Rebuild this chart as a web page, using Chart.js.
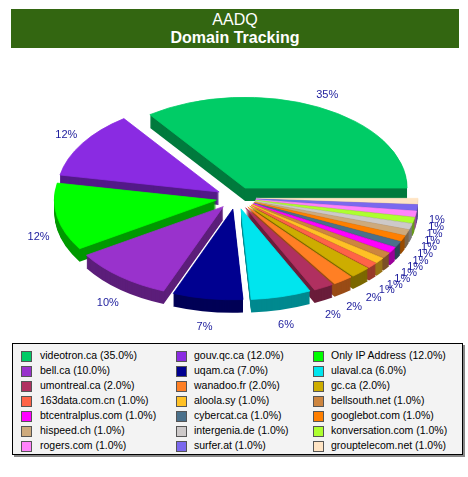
<!DOCTYPE html>
<html>
<head>
<meta charset="utf-8">
<script src="https://cdn.jsdelivr.net/npm/chart.js@4.4.1/dist/chart.umd.min.js"></script>
<style>
  body { margin: 0; background: #fff; font-family: Arial, "Liberation Sans", sans-serif; }
  #wrap { position: relative; width: 468px; height: 477px; overflow: hidden; }
  #title { position: absolute; left: 11px; top: 9px; width: 448px; height: 39px; background: #336611; color: #fff; text-align: center; }
  #title .t1 { font-size: 16px; line-height: 18px; padding-top: 2px; }
  #title .t2 { font-size: 16px; font-weight: bold; line-height: 18px; }
  #pie { position: absolute; left: 0; top: 50px; }
  #legend { position: absolute; left: 12px; top: 343px; width: 449px; height: 110px; background: #f3f3f3; border: 1px solid #000; box-shadow: 2px 2px 0 #888; }
  .sw { position: absolute; width: 9px; height: 9px; border: 1px solid #555; }
  .tx { position: absolute; font-size: 10.5px; line-height: 15px; height: 15px; white-space: nowrap; color: #000; }
</style>
</head>
<body>
<div id="wrap">
  <div id="title"><div class="t1">AADQ</div><div class="t2">Domain Tracking</div></div>
  <canvas id="pie" width="468" height="292"></canvas>
  <div id="legend"></div>
</div>
<script>
// ---- data ----
const domains = ['videotron.ca', 'gouv.qc.ca', 'Only IP Address', 'bell.ca', 'uqam.ca', 'ulaval.ca',
  'umontreal.ca', 'wanadoo.fr', 'gc.ca', '163data.com.cn', 'aloola.sy', 'bellsouth.net',
  'btcentralplus.com', 'cybercat.ca', 'googlebot.com', 'hispeed.ch', 'intergenia.de',
  'konversation.com', 'rogers.com', 'surfer.at', 'grouptelecom.net'];
const shares = [35, 12, 12, 10, 7, 6, 2, 2, 2, 1, 1, 1, 1, 1, 1, 1, 1, 1, 1, 1, 1];
const palette = ['#00cc66', '#8a2be2', '#00ff00', '#9932cc', '#000090', '#00e5ee',
  '#b03060', '#ff7f24', '#cdad00', '#ff6347', '#ffc125', '#cd853f',
  '#ff00ff', '#4a708b', '#ff7f00', '#cdaa7d', '#cdc9c9',
  '#adff2f', '#ff83fa', '#7b68ee', '#ffe4c4'];

// 3d look
const K = 0.56, DEPTH = 13, EXPLODE = 20, CX = 236, CY = 148;

function shade(hex, f) {
  const n = parseInt(hex.slice(1), 16);
  const r = Math.round(((n >> 16) & 255) * f), g = Math.round(((n >> 8) & 255) * f), b = Math.round((n & 255) * f);
  return 'rgb(' + r + ',' + g + ',' + b + ')';
}

// pie goes counter-clockwise from 3 o'clock in the picture, chart.js goes clockwise
const pieLabels = domains.slice().reverse();
const pieValues = shares.slice().reverse();
const pieColors = palette.slice().reverse();

const pie3d = {
  id: 'pie3d',
  beforeDatasetsDraw(chart) {
    const ctx = chart.ctx;
    const arcs = chart.getDatasetMeta(0).data;
    const cols = chart.data.datasets[0].backgroundColor;
    const place = (a, dy) => {
      ctx.translate(CX, CY + dy);
      ctx.scale(1, K);
      ctx.translate(-a.x, -a.y);
      const m = (a.startAngle + a.endAngle) / 2;
      ctx.translate(Math.cos(m) * EXPLODE, Math.sin(m) * EXPLODE);
    };
    // side walls, stacked
    for (let d = DEPTH; d >= 1; d--) {
      arcs.forEach((a, i) => {
        ctx.save();
        place(a, d);
        ctx.beginPath();
        ctx.moveTo(a.x, a.y);
        ctx.arc(a.x, a.y, a.outerRadius, a.startAngle, a.endAngle);
        ctx.closePath();
        ctx.fillStyle = shade(cols[i], 0.6);
        ctx.fill();
        ctx.restore();
      });
    }
    // tops
    arcs.forEach(a => { ctx.save(); place(a, 0); a.draw(ctx); ctx.restore(); });
    // percent labels
    const total = chart.data.datasets[0].data.reduce((s, v) => s + v, 0);
    ctx.save();
    ctx.font = '11px Arial, "Liberation Sans", sans-serif';
    ctx.fillStyle = '#1c1c9c';
    ctx.textAlign = 'center';
    ctx.textBaseline = 'middle';
    arcs.forEach((a, i) => {
      const m = (a.startAngle + a.endAngle) / 2;
      const c = Math.cos(m), s = Math.sin(m);
      const R = a.outerRadius + 19;
      const lx = CX + c * (EXPLODE + R);
      const ly = CY + s * (EXPLODE + R) * K + (s > 0 ? DEPTH + 5 : -3);
      const v = chart.data.datasets[0].data[i];
      ctx.fillText(Math.round(v / total * 100) + '%', lx, ly);
    });
    ctx.restore();
    return false;
  }
};

new Chart(document.getElementById('pie'), {
  type: 'pie',
  data: {
    labels: pieLabels,
    datasets: [{
      data: pieValues,
      backgroundColor: pieColors,
      borderColor: pieColors,
      borderWidth: 1
    }]
  },
  options: {
    responsive: false,
    animation: false,
    events: [],
    rotation: 90,
    radius: 162,
    layout: { padding: 0 },
    plugins: { legend: { display: false }, tooltip: { enabled: false }, title: { display: false } }
  },
  plugins: [pie3d]
});

// legend, 3 columns row by row
const legend = document.getElementById('legend');
const swX = [8, 163, 300], txX = [27, 181, 318];
domains.forEach((name, i) => {
  const col = i % 3, row = Math.floor(i / 3);
  const top = 4 + row * 15;
  const sw = document.createElement('div');
  sw.className = 'sw';
  sw.style.left = swX[col] + 'px';
  sw.style.top = (top + 3) + 'px';
  sw.style.background = palette[i];
  legend.appendChild(sw);
  const tx = document.createElement('div');
  tx.className = 'tx';
  tx.style.left = txX[col] + 'px';
  tx.style.top = top + 'px';
  tx.textContent = name + ' (' + shares[i].toFixed(1) + '%)';
  legend.appendChild(tx);
});
</script>
</body>
</html>
